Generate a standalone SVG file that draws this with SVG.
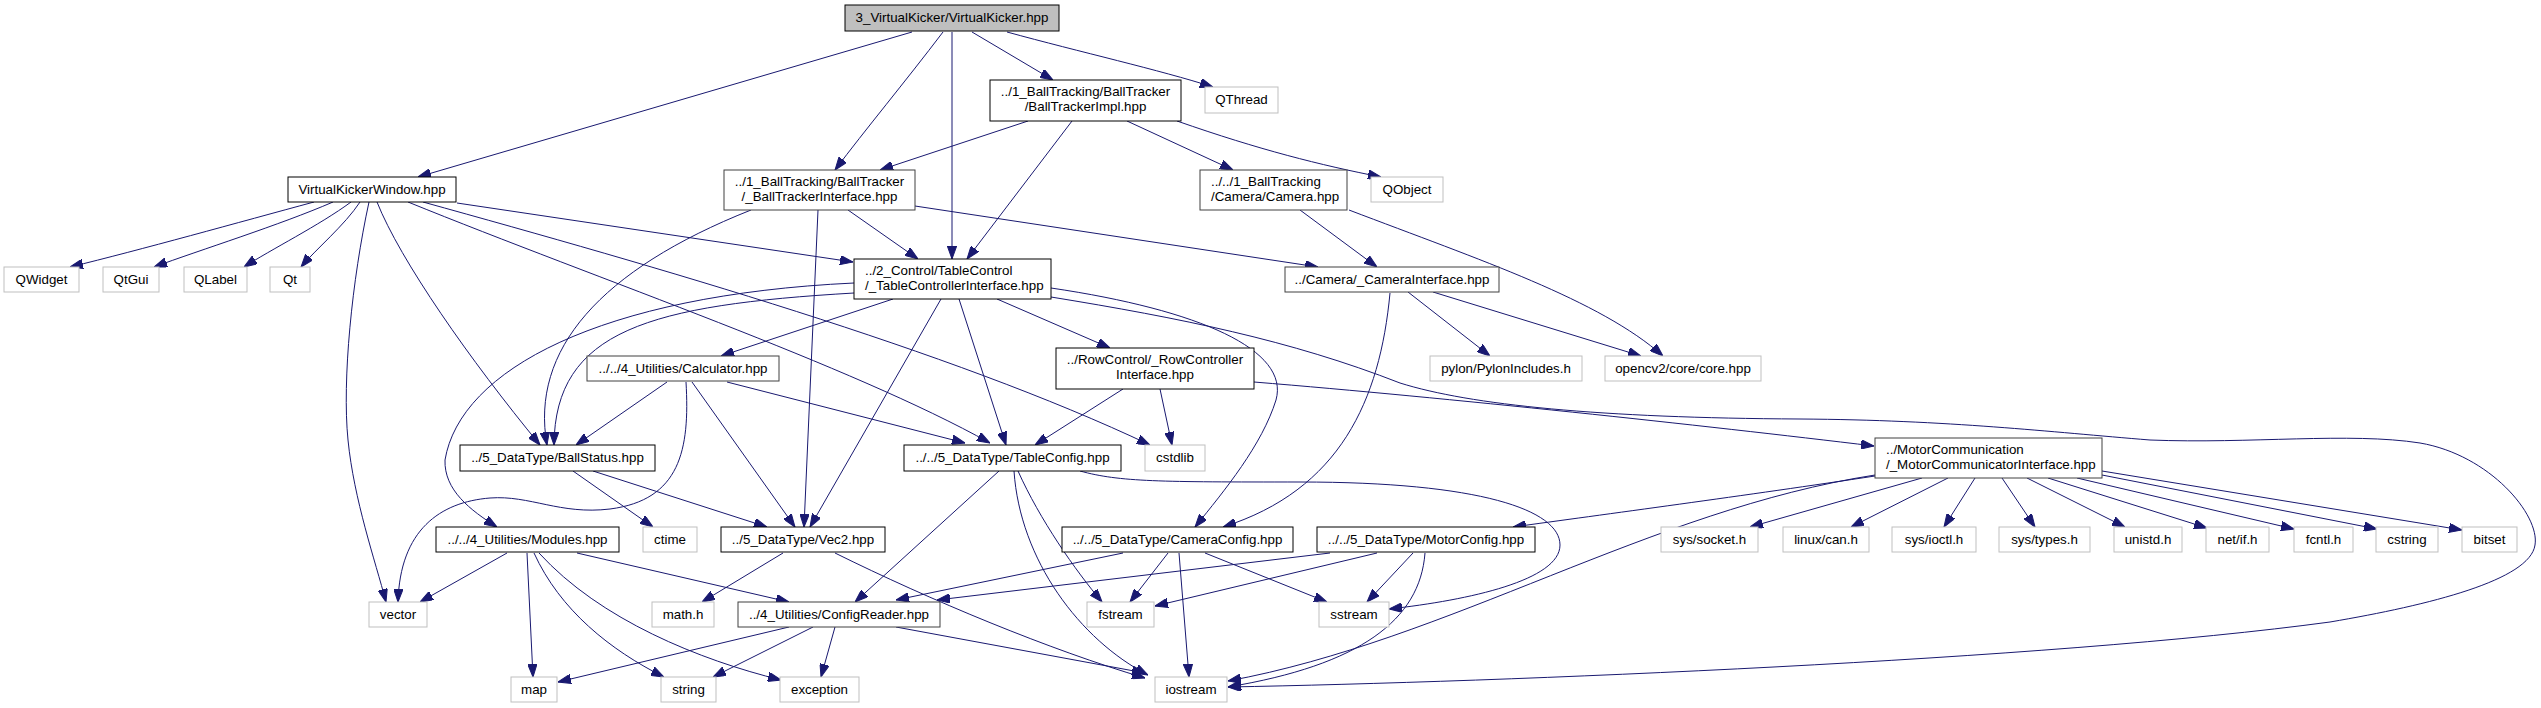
<svg xmlns="http://www.w3.org/2000/svg" width="2541" height="708" viewBox="0 0 2541 708">
<style>
rect{stroke-width:1}
.n{fill:#fff;stroke:#000}
.d{fill:#fff;stroke:#404040}
.g{fill:#fff;stroke:#bfbfbf}
.r{fill:#bfbfbf;stroke:#000}
text{font-family:"Liberation Sans",Arial,sans-serif;font-size:13.33px;fill:#000}
.c{text-anchor:middle}
.l{text-anchor:start}
#edges path{fill:none;stroke:#191970;stroke-width:1;marker-end:url(#ah)}
</style>
<defs>
<marker id="ah" viewBox="0 0 13 9.4" refX="13" refY="4.7" markerWidth="13" markerHeight="9.4" markerUnits="userSpaceOnUse" orient="auto">
<path d="M0,0 L13,4.7 L0,9.4 z" fill="#191970" stroke="#191970" stroke-width="1"/>
</marker>
</defs>
<rect width="2541" height="708" fill="#fff"/>
<g id="edges">
<path d="M912,32 L418,177"/>
<path d="M943,32 C905,82 865,130 835,170"/>
<path d="M952,32 L952,259"/>
<path d="M972,32 L1053,80"/>
<path d="M1007,32 C1080,52 1160,70 1213,87"/>
<path d="M1028,121 L880,170"/>
<path d="M1072,121 L967,259"/>
<path d="M1127,121 L1233,170"/>
<path d="M1177,121 C1260,150 1320,165 1381,177"/>
<path d="M314,202 C240,222 140,250 70,267"/>
<path d="M333,202 C280,225 200,250 154,267"/>
<path d="M351,202 C320,225 270,250 244,267"/>
<path d="M360,202 C345,225 315,250 301,267"/>
<path d="M369,202 C352,280 342,380 348,440 C354,500 375,560 386,602"/>
<path d="M377,202 C400,260 470,360 540,445"/>
<path d="M457,203 L853,262"/>
<path d="M408,202 C600,280 850,365 990,443"/>
<path d="M423,202 C650,265 950,350 1150,445"/>
<path d="M848,210 L918,259"/>
<path d="M915,206 L1318,267"/>
<path d="M751,210 C600,270 530,350 547,445"/>
<path d="M818,210 L804,527"/>
<path d="M854,293 C650,305 555,330 554,445"/>
<path d="M854,283 C600,295 460,370 445,460 C444,490 470,510 497,527"/>
<path d="M893,299 L721,356"/>
<path d="M941,299 L810,527"/>
<path d="M959,299 L1006,445"/>
<path d="M997,299 L1110,348"/>
<path d="M1051,288 C1200,310 1290,350 1276,400 C1262,445 1225,490 1195,527"/>
<path d="M1051,297 C1180,318 1290,340 1400,383 C1470,405 1600,418 1800,419 C1950,420 2050,432 2150,440 C2250,444 2350,432 2420,443 C2490,455 2540,515 2535,545 C2530,580 2430,605 2330,622 C2050,660 1500,682 1228,687"/>
<path d="M1123,389 L1035,445"/>
<path d="M1160,389 L1172,445"/>
<path d="M1254,382 C1450,398 1700,425 1874,446"/>
<path d="M1408,292 L1490,356"/>
<path d="M1433,292 L1641,356"/>
<path d="M1390,293 C1380,400 1340,490 1223,527"/>
<path d="M1300,210 L1377,267"/>
<path d="M1349,210 C1480,260 1600,300 1663,356"/>
<path d="M667,382 L576,445"/>
<path d="M692,382 L795,527"/>
<path d="M727,382 L965,443"/>
<path d="M686,382 C690,450 680,500 610,509 C560,515 530,495 490,498 C440,502 400,530 398,602"/>
<path d="M573,471 L653,527"/>
<path d="M593,471 L767,527"/>
<path d="M507,553 L420,602"/>
<path d="M527,553 L533,677"/>
<path d="M534,553 C560,610 610,650 664,677"/>
<path d="M539,553 C600,620 700,660 781,680"/>
<path d="M577,553 L789,602"/>
<path d="M783,553 L702,602"/>
<path d="M835,553 C930,600 1050,650 1145,678"/>
<path d="M999,471 L855,602"/>
<path d="M1014,471 C1020,560 1080,640 1148,675"/>
<path d="M1018,471 C1040,520 1075,570 1102,602"/>
<path d="M1080,471 C1120,482 1160,482 1300,482 C1480,482 1560,510 1560,545 C1560,580 1470,600 1389,609"/>
<path d="M789,627 L558,682"/>
<path d="M813,627 L713,677"/>
<path d="M835,627 L821,677"/>
<path d="M896,627 L1145,673"/>
<path d="M1123,553 L896,600"/>
<path d="M1168,553 L1130,602"/>
<path d="M1179,553 L1189,677"/>
<path d="M1205,553 L1327,602"/>
<path d="M1330,553 L937,600"/>
<path d="M1377,553 L1155,606"/>
<path d="M1413,553 L1367,602"/>
<path d="M1425,553 C1420,620 1360,665 1228,687"/>
<path d="M1875,476 C1750,495 1600,515 1513,527"/>
<path d="M1875,475 C1650,510 1450,640 1228,681"/>
<path d="M1922,478 L1750,527"/>
<path d="M1948,478 L1851,527"/>
<path d="M1975,478 L1944,527"/>
<path d="M2002,478 L2035,527"/>
<path d="M2027,478 L2125,527"/>
<path d="M2048,478 L2207,528"/>
<path d="M2077,478 L2294,529"/>
<path d="M2102,475 L2377,529"/>
<path d="M2102,471 L2462,530"/>
</g>
<g id="n_root"><rect class="r" x="845" y="5" width="214" height="26"/><text class="c" x="952" y="22">3_VirtualKicker/VirtualKicker.hpp</text></g>
<g id="n_vkw"><rect class="n" x="288" y="177" width="168" height="25"/><text class="c" x="372" y="194">VirtualKickerWindow.hpp</text></g>
<g id="n_btimpl"><rect class="n" x="990" y="80" width="191" height="41"/><text class="c" x="1085.5" y="96">../1_BallTracking/BallTracker</text><text class="c" x="1085.5" y="111">/BallTrackerImpl.hpp</text></g>
<g id="n_qthread"><rect class="g" x="1205" y="87" width="73" height="26"/><text class="c" x="1241.5" y="104">QThread</text></g>
<g id="n_bti"><rect class="d" x="724" y="170" width="191" height="40"/><text class="c" x="819.5" y="186">../1_BallTracking/BallTracker</text><text class="c" x="819.5" y="201">/_BallTrackerInterface.hpp</text></g>
<g id="n_camera"><rect class="d" x="1200" y="170" width="147" height="40"/><text class="l" x="1211" y="186">../../1_BallTracking</text><text class="l" x="1211" y="201">/Camera/Camera.hpp</text></g>
<g id="n_qobject"><rect class="g" x="1371" y="177" width="72" height="25"/><text class="c" x="1407" y="194">QObject</text></g>
<g id="n_qwidget"><rect class="g" x="4" y="267" width="75" height="25"/><text class="c" x="41.5" y="284">QWidget</text></g>
<g id="n_qtgui"><rect class="g" x="103" y="267" width="56" height="25"/><text class="c" x="131" y="284">QtGui</text></g>
<g id="n_qlabel"><rect class="g" x="184" y="267" width="63" height="25"/><text class="c" x="215.5" y="284">QLabel</text></g>
<g id="n_qt"><rect class="g" x="270" y="267" width="40" height="25"/><text class="c" x="290" y="284">Qt</text></g>
<g id="n_tc"><rect class="n" x="854" y="259" width="197" height="40"/><text class="l" x="865" y="275">../2_Control/TableControl</text><text class="l" x="865" y="290">/_TableControllerInterface.hpp</text></g>
<g id="n_camif"><rect class="d" x="1285" y="267" width="214" height="25"/><text class="c" x="1392" y="284">../Camera/_CameraInterface.hpp</text></g>
<g id="n_calc"><rect class="d" x="587" y="356" width="192" height="25"/><text class="c" x="683" y="373">../../4_Utilities/Calculator.hpp</text></g>
<g id="n_row"><rect class="n" x="1056" y="348" width="198" height="41"/><text class="c" x="1155" y="364">../RowControl/_RowController</text><text class="c" x="1155" y="379">Interface.hpp</text></g>
<g id="n_pylon"><rect class="g" x="1430" y="356" width="152" height="25"/><text class="c" x="1506" y="373">pylon/PylonIncludes.h</text></g>
<g id="n_opencv"><rect class="g" x="1605" y="356" width="156" height="25"/><text class="c" x="1683" y="373">opencv2/core/core.hpp</text></g>
<g id="n_ballstatus"><rect class="n" x="460" y="445" width="195" height="26"/><text class="c" x="557.5" y="462">../5_DataType/BallStatus.hpp</text></g>
<g id="n_tableconfig"><rect class="n" x="904" y="445" width="217" height="26"/><text class="c" x="1012.5" y="462">../../5_DataType/TableConfig.hpp</text></g>
<g id="n_cstdlib"><rect class="g" x="1145" y="445" width="60" height="26"/><text class="c" x="1175" y="462">cstdlib</text></g>
<g id="n_motorcomm"><rect class="d" x="1875" y="438" width="227" height="40"/><text class="l" x="1886" y="454">../MotorCommunication</text><text class="l" x="1886" y="469">/_MotorCommunicatorInterface.hpp</text></g>
<g id="n_modules"><rect class="n" x="436" y="527" width="183" height="25"/><text class="c" x="527.5" y="544">../../4_Utilities/Modules.hpp</text></g>
<g id="n_ctime"><rect class="g" x="643" y="527" width="54" height="25"/><text class="c" x="670" y="544">ctime</text></g>
<g id="n_vec2"><rect class="n" x="721" y="527" width="164" height="25"/><text class="c" x="803" y="544">../5_DataType/Vec2.hpp</text></g>
<g id="n_cameraconfig"><rect class="n" x="1062" y="527" width="231" height="25"/><text class="c" x="1177.5" y="544">../../5_DataType/CameraConfig.hpp</text></g>
<g id="n_motorconfig"><rect class="n" x="1317" y="527" width="218" height="25"/><text class="c" x="1426" y="544">../../5_DataType/MotorConfig.hpp</text></g>
<g id="n_socket"><rect class="g" x="1661" y="527" width="97" height="25"/><text class="c" x="1709.5" y="544">sys/socket.h</text></g>
<g id="n_can"><rect class="g" x="1783" y="527" width="86" height="25"/><text class="c" x="1826" y="544">linux/can.h</text></g>
<g id="n_ioctl"><rect class="g" x="1892" y="527" width="84" height="25"/><text class="c" x="1934" y="544">sys/ioctl.h</text></g>
<g id="n_types"><rect class="g" x="1999" y="527" width="91" height="25"/><text class="c" x="2044.5" y="544">sys/types.h</text></g>
<g id="n_unistd"><rect class="g" x="2114" y="527" width="68" height="25"/><text class="c" x="2148" y="544">unistd.h</text></g>
<g id="n_netif"><rect class="g" x="2206" y="527" width="63" height="25"/><text class="c" x="2237.5" y="544">net/if.h</text></g>
<g id="n_fcntl"><rect class="g" x="2294" y="527" width="59" height="25"/><text class="c" x="2323.5" y="544">fcntl.h</text></g>
<g id="n_cstring"><rect class="g" x="2376" y="527" width="62" height="25"/><text class="c" x="2407" y="544">cstring</text></g>
<g id="n_bitset"><rect class="g" x="2462" y="527" width="55" height="25"/><text class="c" x="2489.5" y="544">bitset</text></g>
<g id="n_vector"><rect class="g" x="369" y="602" width="58" height="25"/><text class="c" x="398" y="619">vector</text></g>
<g id="n_math"><rect class="g" x="652" y="602" width="62" height="25"/><text class="c" x="683" y="619">math.h</text></g>
<g id="n_configreader"><rect class="d" x="738" y="602" width="202" height="25"/><text class="c" x="839" y="619">../4_Utilities/ConfigReader.hpp</text></g>
<g id="n_fstream"><rect class="g" x="1087" y="602" width="67" height="25"/><text class="c" x="1120.5" y="619">fstream</text></g>
<g id="n_sstream"><rect class="g" x="1319" y="602" width="70" height="25"/><text class="c" x="1354" y="619">sstream</text></g>
<g id="n_map"><rect class="g" x="511" y="677" width="46" height="25"/><text class="c" x="534" y="694">map</text></g>
<g id="n_string"><rect class="g" x="661" y="677" width="55" height="25"/><text class="c" x="688.5" y="694">string</text></g>
<g id="n_exception"><rect class="g" x="780" y="677" width="79" height="25"/><text class="c" x="819.5" y="694">exception</text></g>
<g id="n_iostream"><rect class="g" x="1155" y="677" width="72" height="25"/><text class="c" x="1191" y="694">iostream</text></g>
</svg>
